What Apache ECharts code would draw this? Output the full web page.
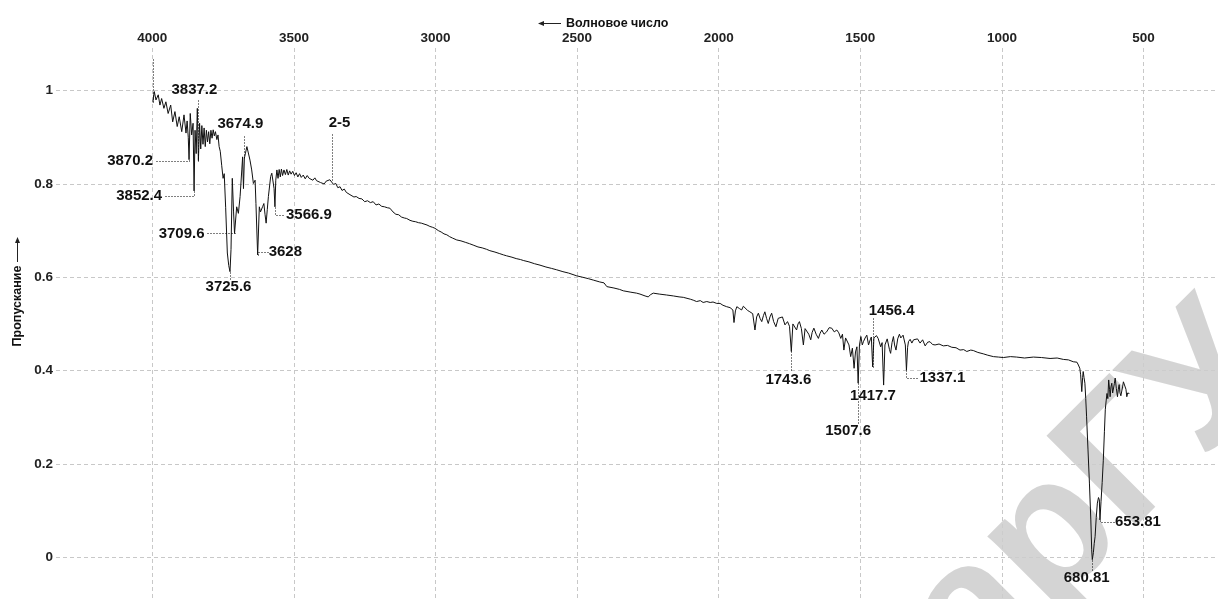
<!DOCTYPE html>
<html><head><meta charset="utf-8">
<script src="https://cdn.jsdelivr.net/npm/echarts@6/dist/echarts.min.js"></script>
<style>html,body{margin:0;padding:0;background:#fff}#c{width:1218px;height:599px}</style>
</head><body><div id="c"></div>
<script>
// ---- data ----
const wavenumbers = [
3998,3993,3987,3979,3973,3967,3959,3952,3944,3935,3928,3920,3912,3905,3896,3888,3881,3877,3873,3870.2,
3866,3861,3856,3852.4,3849,3845,3841,3837.2,3833,3829,3825,3821,3817,3813,3809,3805,3801,3797,3793,3789,
3785,3781,3777,3772,3768,3764,3760,3755,3750,3746,3741,3735,3730,3725.6,3722,3717.5,3713,3709.6,3702,3696,
3690,3684,3681,3678,3674.9,3671,3666,3661,3655,3649,3643,3637,3634,3628,3622,3618,3614,3610,3606,3602,
3598,3594,3590,3582,3578,3574,3570,3566.9,3564,3560,3556,3552,3548,3544,3540,3535,3530,3525,3520,3515,
3510,3504,3498,3492,3486,3480,3474,3467,3460,3453,3446,3440,3433,3426,3420,3413,3406,3400,3393,3386,
3380,3373,3367,3360,3352,3345,3337,3330,3322,3315,3308,3302,3295,3288,3280,3270,3260,3250,3240,3230,
3220,3210,3200,3190,3180,3170,3161,3150,3140,3130,3120,3110,3102,3090,3080,3070,3060,3050,3043,3030,
3020,3010,3002,2990,2980,2970,2960,2950,2940,2925,2910,2895,2880,2867,2850,2835,2820,2808,2790,2775,
2760,2749,2730,2715,2700,2690,2670,2650,2631,2610,2590,2572,2550,2530,2501,2480,2460,2443,2420,2405,
2395,2370,2350,2337,2310,2290,2278,2260,2249,2240,2231,2210,2184,2160,2140,2125,2100,2090,2078,2065,
2055,2042,2030,2020,2007,1995,1985,1972,1960,1950,1946,1941,1936,1927,1919,1913,1907,1898,1890,1880,
1872,1866,1860,1854,1848,1842,1837,1831,1825,1819,1813,1806,1798,1790,1784,1775,1766,1757,1750,1743.6,
1738,1734,1725,1720,1715,1708,1701,1695,1689,1682,1675,1670,1664,1656,1648,1642,1636,1628,1619,1610,
1601,1592,1583,1576,1569,1563,1558,1552,1546,1540,1534,1528,1522,1517,1512,1507.6,1503,1498,1493,1489,
1483,1477,1471,1465,1461,1456.4,1452,1448,1443,1437,1432,1428,1423,1417.7,1413,1409,1405,1401,1397,1393,
1388,1383,1379,1374,1368,1362,1357,1353,1349,1346,1341,1337.1,1333,1330,1324,1318,1312,1306,1298,1289,
1280,1271,1262,1254,1245,1236,1222,1207,1192,1177,1162,1148,1135,1124,1110,1101,1085,1066,1050,1030,
1012,995,970,948,920,889,860,830,805,783,765,748,735,730,725,722,718,715,713,710,
707,704,701,696,691,686,683,680.81,677,674,671,667,663,659,656,653.81,650,646,642,638,
635,632,629,626,623,620,618,615,612,609,606,603,600,596,592,589,586,583,580,577,
574,571,568,565,562,559,556,554,550];
const transmittance = [
0.975,0.998,0.980,0.991,0.969,0.983,0.962,0.976,0.951,0.969,0.933,0.955,0.923,0.944,0.912,0.948,0.909,0.935,0.900,0.852,
0.951,0.905,0.930,0.785,0.915,0.865,0.962,0.850,0.930,0.875,0.925,0.885,0.920,0.880,0.915,0.890,0.912,0.886,0.915,0.898,
0.916,0.903,0.912,0.895,0.905,0.880,0.870,0.840,0.812,0.822,0.750,0.652,0.625,0.612,0.660,0.812,0.740,0.694,0.751,0.737,
0.773,0.830,0.858,0.790,0.855,0.866,0.880,0.876,0.851,0.830,0.801,0.808,0.758,0.648,0.751,0.740,0.737,0.752,0.758,0.735,
0.716,0.745,0.773,0.816,0.823,0.826,0.790,0.751,0.808,0.830,0.812,0.831,0.815,0.832,0.818,0.830,0.820,0.831,0.819,0.828,
0.821,0.827,0.818,0.824,0.815,0.822,0.814,0.819,0.811,0.818,0.812,0.815,0.808,0.813,0.807,0.810,0.803,0.806,0.800,0.806,
0.802,0.809,0.808,0.799,0.801,0.792,0.794,0.786,0.789,0.782,0.784,0.777,0.778,0.772,0.773,0.769,0.768,0.762,0.764,0.760,
0.762,0.755,0.757,0.752,0.751,0.749,0.748,0.740,0.735,0.734,0.729,0.727,0.726,0.722,0.720,0.719,0.717,0.716,0.716,0.712,
0.709,0.707,0.705,0.700,0.697,0.693,0.691,0.687,0.684,0.680,0.678,0.675,0.672,0.669,0.665,0.663,0.660,0.657,0.654,0.651,
0.648,0.646,0.643,0.640,0.638,0.636,0.633,0.629,0.626,0.622,0.619,0.616,0.612,0.609,0.603,0.600,0.597,0.594,0.590,0.588,
0.580,0.577,0.574,0.571,0.568,0.566,0.564,0.560,0.558,0.563,0.566,0.564,0.562,0.560,0.558,0.557,0.553,0.551,0.548,0.550,
0.546,0.548,0.546,0.547,0.544,0.544,0.540,0.537,0.535,0.530,0.503,0.528,0.537,0.533,0.530,0.538,0.536,0.529,0.526,0.522,
0.487,0.515,0.523,0.512,0.505,0.518,0.526,0.512,0.501,0.515,0.523,0.505,0.494,0.512,0.508,0.515,0.498,0.505,0.495,0.441,
0.500,0.501,0.487,0.500,0.505,0.490,0.455,0.490,0.494,0.478,0.466,0.482,0.491,0.478,0.469,0.480,0.487,0.478,0.483,0.492,
0.491,0.483,0.487,0.481,0.469,0.478,0.444,0.470,0.466,0.455,0.430,0.448,0.405,0.440,0.451,0.373,0.455,0.473,0.455,0.462,
0.470,0.476,0.455,0.466,0.472,0.408,0.470,0.466,0.475,0.469,0.465,0.451,0.460,0.369,0.455,0.451,0.468,0.466,0.445,0.437,
0.460,0.473,0.455,0.444,0.468,0.478,0.470,0.466,0.476,0.473,0.455,0.401,0.450,0.462,0.467,0.459,0.466,0.464,0.468,0.459,
0.466,0.453,0.461,0.462,0.456,0.455,0.457,0.453,0.454,0.450,0.449,0.444,0.445,0.441,0.444,0.443,0.439,0.436,0.433,0.430,
0.429,0.428,0.430,0.429,0.427,0.429,0.428,0.426,0.427,0.424,0.423,0.419,0.418,0.412,0.405,0.391,0.355,0.385,0.398,0.385,
0.373,0.340,0.301,0.230,0.159,0.080,0.016,-0.005,0.010,0.030,0.044,0.085,0.116,0.128,0.123,0.080,0.120,0.160,0.208,0.270,
0.316,0.335,0.351,0.340,0.380,0.360,0.344,0.365,0.373,0.352,0.350,0.372,0.384,0.362,0.344,0.360,0.370,0.352,0.346,0.344,
0.365,0.376,0.372,0.380,0.360,0.344,0.352,0.355,0.351];

const xTicks = [4000, 3500, 3000, 2500, 2000, 1500, 1000, 500];
const yTicks = [0, 0.2, 0.4, 0.6, 0.8, 1];
const xName = 'Волновое число';
const yName = 'Пропускание';
const watermarkText = 'БарГУ';

// labelled bands
const peakWn   = [3998, 3837.2, 3870.2, 3852.4, 3674.9, 3709.6, 3725.6, 3628, 3566.9, 3367, 1743.6, 1507.6, 1456.4, 1417.7, 1337.1, 653.81, 680.81];
const peakText = ['', '3837.2', '3870.2', '3852.4', '3674.9', '3709.6', '3725.6', '3628', '3566.9', '2-5', '1743.6', '1507.6', '1456.4', '1417.7', '1337.1', '653.81', '680.81'];

// ---- layout of the peak labels (pixel offsets from the data point) ----
const peakLayout = [
  {leader: [[0,0],[0,-44]]},
  {leader: [[0,0],[0,-63]], text: [-4,-71], align: 'center'},
  {leader: [[0,0],[0,1.5],[-35,1.5]], text: [-36,1.5], align: 'right'},
  {leader: [[0,0],[0,5],[-31,5]], text: [-32,5], align: 'right'},
  {leader: [[0,0],[0,-23]], text: [-4,-34], align: 'center'},
  {leader: [[0,0],[-29,0]], text: [-30,0], align: 'right'},
  {leader: [[0,0],[0,8]], text: [-1.5,15], align: 'center'},
  {leader: [[0,0],[0,-3],[10,-3]], text: [11,-3], align: 'left'},
  {leader: [[0,0],[0,8],[10,8]], text: [11,8], align: 'left'},
  {leader: [[0,0],[0,-48]], text: [8,-57], align: 'center'},
  {leader: [[0,0],[0,20]], text: [-3,28], align: 'center'},
  {leader: [[0,0],[0,40]], text: [-10,48], align: 'center'},
  {leader: [[0,0],[0,-49]], text: [19,-56], align: 'center'},
  {leader: null, text: [-10.6,11], align: 'center'},
  {leader: [[0,0],[0,8],[12,8]], text: [13,8], align: 'left'},
  {leader: [[0,0],[0,2],[14,2]], text: [15,2], align: 'left'},
  {leader: [[0,0],[0,10]], text: [-5.6,18], align: 'center'}
];

const chart = echarts.init(document.getElementById('c'), null, {renderer: 'canvas'});
const axisFont = '"Liberation Sans", Arial, sans-serif';
const gridLine = {show: true, lineStyle: {color: '#c8c8c8', width: 1, type: [4, 3]}};

chart.setOption({
  animation: false,
  backgroundColor: '#fff',
  grid: {left: 56, right: 0, top: 48, bottom: 0, containLabel: false, outerBoundsMode: 'none'},
  xAxis: {
    type: 'value', position: 'top', inverse: true, min: 237, max: 4340,
    axisLine: {show: false},
    axisTick: {show: false, customValues: xTicks},
    axisLabel: {customValues: xTicks, margin: 3, fontFamily: axisFont, fontSize: 13.5, fontWeight: 'bold', color: '#222',
      formatter: v => String(v)},
    splitLine: gridLine
  },
  yAxis: {
    type: 'value', min: -0.0894, max: 1.0913,
    axisLine: {show: false},
    axisTick: {show: false, customValues: yTicks},
    axisLabel: {customValues: yTicks, margin: 3, fontFamily: axisFont, fontSize: 13.5, fontWeight: 'bold', color: '#222',
      formatter: v => String(+(+v).toFixed(1))},
    splitLine: gridLine
  },
  series: [{
    type: 'line', silent: true, showSymbol: false, symbol: 'none', z: 3,
    lineStyle: {color: '#111', width: 1},
    data: wavenumbers.map((w, i) => [w, transmittance[i]])
  }]
});

const labelFont = 'bold 15px "Liberation Sans", Arial, sans-serif';
const nameFont = 'bold 12.5px "Liberation Sans", Arial, sans-serif';
const g = [];
peakWn.forEach((wn, i) => {
  const idx = wavenumbers.indexOf(wn);
  const P = chart.convertToPixel({gridIndex: 0}, [wn, transmittance[idx]]);
  const L = peakLayout[i];
  if (L.leader) {
    g.push({type: 'polyline', silent: true, z: 10,
      shape: {points: L.leader.map(([dx, dy]) => [Math.round(P[0] + dx) + 0.5, Math.round(P[1] + dy) + 0.5])},
      style: {stroke: '#000', lineWidth: 1, lineDash: [1, 2], fill: null}});
  }
  if (peakText[i]) {
    g.push({type: 'text', silent: true, z: 11, x: P[0] + L.text[0], y: P[1] + L.text[1],
      style: {text: peakText[i], font: labelFont, fill: '#111',
        align: L.align, textAlign: L.align, verticalAlign: 'middle', textVerticalAlign: 'middle'}});
  }
});
// axis names with arrows
g.push({type: 'line', silent: true, z: 10, shape: {x1: 541, y1: 23.5, x2: 561, y2: 23.5}, style: {stroke: '#222', lineWidth: 1}});
g.push({type: 'polygon', silent: true, z: 10, shape: {points: [[538, 23.5], [544, 21], [544, 26]]}, style: {fill: '#222'}});
g.push({type: 'text', silent: true, z: 10, x: 566, y: 24,
  style: {text: xName, font: nameFont, fill: '#111', align: 'left', textAlign: 'left', verticalAlign: 'middle', textVerticalAlign: 'middle'}});
g.push({type: 'text', silent: true, z: 10, x: 17.5, y: 306, rotation: Math.PI / 2,
  style: {text: yName, font: nameFont, fill: '#111', align: 'center', textAlign: 'center', verticalAlign: 'middle', textVerticalAlign: 'middle'}});
g.push({type: 'line', silent: true, z: 10, shape: {x1: 17.5, y1: 262, x2: 17.5, y2: 241}, style: {stroke: '#222', lineWidth: 1}});
g.push({type: 'polygon', silent: true, z: 10, shape: {points: [[17.5, 237], [15, 243], [20, 243]]}, style: {fill: '#222'}});
// watermark
g.push({type: 'text', silent: true, z: 1, x: 845, y: 745, rotation: Math.PI / 4,
  style: {text: watermarkText, font: 'bold 185px "Liberation Sans", Arial, sans-serif', fill: 'rgba(205,205,205,0.85)',
    align: 'left', textAlign: 'left', verticalAlign: 'middle', textVerticalAlign: 'middle'}});
chart.setOption({graphic: {elements: g}});
</script>
</body></html>
